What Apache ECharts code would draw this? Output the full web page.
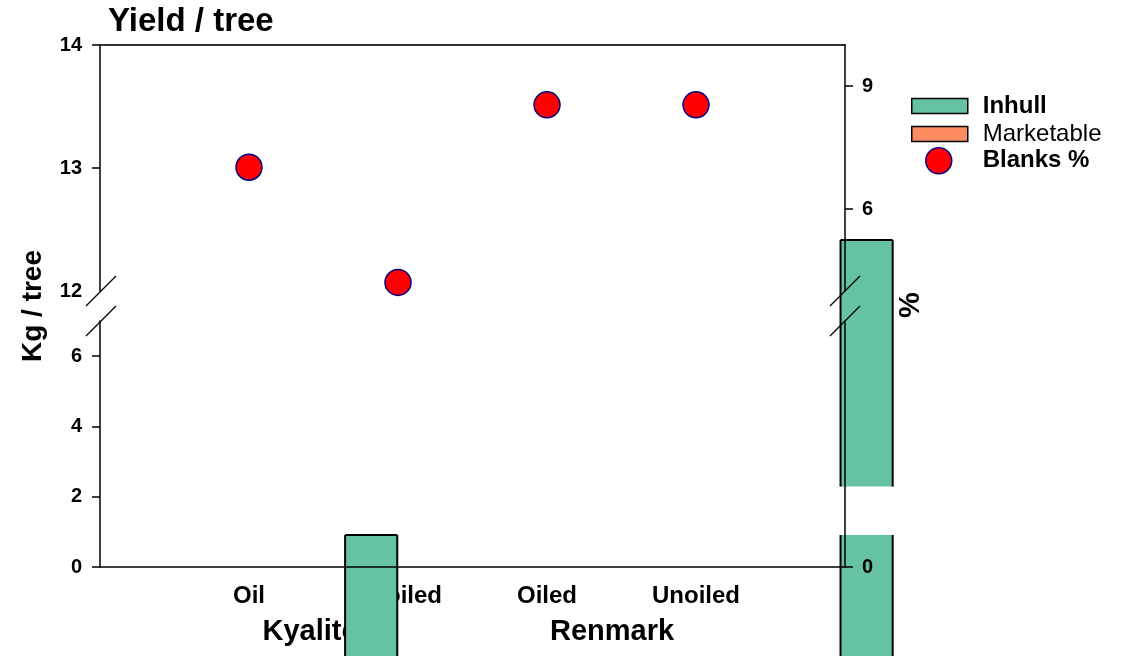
<!DOCTYPE html>
<html>
<head>
<meta charset="utf-8">
<title>Yield / tree</title>
<script src="https://cdn.jsdelivr.net/npm/echarts@6/dist/echarts.min.js"></script>
<style>
  html, body { margin: 0; padding: 0; background: #fff; }
  #chart { width: 1132px; height: 656px; }
</style>
</head>
<body>
<div id="chart"></div>
<script>
  // category labels along the x axis (positions 1..4)
  const categories = ['Oil', 'Unoiled', 'Oiled', 'Unoiled'];
  const groups = ['Kyalite', 'Renmark'];
  // Blanks % (right axis, upper segment)
  const blanks = [7.02, 4.21, 8.54, 8.54];
  // Inhull bars: [x, top, bottom] in kg / tree
  const inhullUpper = [[5.145, 12.415, 10.41]];
  const inhullLower = [[1.82, 0.91, -4], [5.145, 0.91, -4]];
  const marketable = [];

  const FONT = 'Liberation Sans, Arial, sans-serif';
  const BAR_WIDTH = 0.35;
  const GREEN = '#66c2a5';
  const ORANGE = '#fc8d62';

  const chart = echarts.init(document.getElementById('chart'));

  function barRenderer(capAll) {
    return function (params, api) {
      const x = api.value(0);
      const p1 = api.coord([x - BAR_WIDTH / 2, api.value(1)]);
      const p2 = api.coord([x + BAR_WIDTH / 2, api.value(2)]);
      const stroke = { stroke: '#000', lineWidth: 2 };
      const children = [
        { type: 'rect', shape: { x: p1[0], y: p1[1], width: p2[0] - p1[0], height: p2[1] - p1[1] },
          style: { fill: api.visual('color') } },
        { type: 'line', shape: { x1: p1[0], y1: p1[1], x2: p1[0], y2: p2[1] }, style: stroke },
        { type: 'line', shape: { x1: p2[0], y1: p1[1], x2: p2[0], y2: p2[1] }, style: stroke }
      ];
      // a bar that continues from the upper segment has no top edge here
      const continued = !capAll && inhullUpper.some(u => u[0] === x);
      if (!continued) {
        children.push({ type: 'line', shape: { x1: p1[0], y1: p1[1], x2: p2[0], y2: p1[1] }, style: stroke });
      }
      return { type: 'group', children };
    };
  }

  const tickLabel = { color: '#000', fontSize: 20, fontWeight: 'bold', fontFamily: FONT };
  const axisLine = { show: true, lineStyle: { color: '#000', width: 1.5 } };
  const tick = (vals) => ({ show: true, inside: false, length: 8, customValues: vals, lineStyle: { color: '#000', width: 1.5 } });

  const gridBox = { left: 100, width: 745, height: 246, outerBoundsMode: 'none', containLabel: false };

  chart.setOption({
    backgroundColor: '#fff',
    animation: false,
    title: {
      text: 'Yield / tree', left: 108, top: 5, padding: 0,
      textStyle: { color: '#000', fontSize: 33, fontWeight: 'bold', fontFamily: FONT }
    },
    legend: [
      { data: ['Inhull'], left: 911, top: 94, padding: 0, itemWidth: 56, itemHeight: 15, icon: 'rect',
        itemStyle: { color: GREEN, borderColor: '#000', borderWidth: 1.5 },
        textStyle: { color: '#000', fontSize: 24, fontWeight: 'bold', fontFamily: FONT, padding: [0, 0, 0, 10] } },
      { data: ['Marketable'], left: 911, top: 122, padding: 0, itemWidth: 56, itemHeight: 15, icon: 'rect',
        itemStyle: { color: ORANGE, borderColor: '#000', borderWidth: 1.5 },
        textStyle: { color: '#000', fontSize: 24, fontWeight: 'normal', fontFamily: FONT, padding: [0, 0, 0, 10] } },
      { data: ['Blanks %'], left: 925, top: 147, padding: 0, itemWidth: 26, itemHeight: 26, icon: 'circle',
        itemStyle: { color: '#ff0000', borderColor: '#000080', borderWidth: 1.5 },
        textStyle: { color: '#000', fontSize: 24, fontWeight: 'bold', fontFamily: FONT, padding: [0, 0, 0, 26] } }
    ],
    grid: [
      Object.assign({ top: 45 }, gridBox),
      Object.assign({ top: 321 }, gridBox),
      Object.assign({ top: 321 }, gridBox)
    ],
    xAxis: [
      { gridIndex: 0, type: 'value', min: 0, max: 5, position: 'top',
        axisLine: { show: true, lineStyle: { color: '#333', width: 2 } },
        axisTick: { show: false }, axisLabel: { show: false }, splitLine: { show: false } },
      { gridIndex: 1, type: 'value', min: 0, max: 5, position: 'bottom',
        axisLine: { show: false }, axisTick: { show: false }, splitLine: { show: false },
        axisLabel: Object.assign({}, tickLabel, { fontSize: 24, margin: 17, customValues: [1, 2, 3, 4],
          formatter: v => categories[Math.round(v) - 1] || '' }) },
      { gridIndex: 2, type: 'value', min: 0, max: 5, position: 'bottom', z: 5,
        axisLine: axisLine, axisTick: { show: false }, axisLabel: { show: false }, splitLine: { show: false } }
    ],
    yAxis: [
      { gridIndex: 0, type: 'value', position: 'left', min: 12, max: 14, interval: 1,
        axisLine: axisLine, axisTick: tick([13, 14]), splitLine: { show: false },
        axisLabel: Object.assign({}, tickLabel, { margin: 18 }) },
      { gridIndex: 0, type: 'value', position: 'right', min: 4, max: 10, z: 5,
        axisLine: axisLine, axisTick: tick([6, 9]), splitLine: { show: false },
        axisLabel: Object.assign({}, tickLabel, { margin: 17, customValues: [6, 9] }) },
      { gridIndex: 1, type: 'value', position: 'left', min: 0, max: 7,
        axisLine: axisLine, axisTick: tick([0, 2, 4, 6]), splitLine: { show: false },
        axisLabel: Object.assign({}, tickLabel, { margin: 18, customValues: [0, 2, 4, 6] }) },
      { gridIndex: 1, type: 'value', position: 'right', min: 0, max: 7, z: 5,
        axisLine: axisLine, axisTick: tick([0]), splitLine: { show: false },
        axisLabel: Object.assign({}, tickLabel, { margin: 17, customValues: [0] }) },
      { gridIndex: 2, type: 'value', min: 0, max: 7, show: false }
    ],
    series: [
      { name: 'Inhull', type: 'custom', xAxisIndex: 0, yAxisIndex: 0, z: 2, clip: false,
        itemStyle: { color: GREEN }, renderItem: barRenderer(true), data: inhullUpper },
      { name: 'Inhull', type: 'custom', xAxisIndex: 1, yAxisIndex: 2, z: 2, clip: false,
        itemStyle: { color: GREEN }, renderItem: barRenderer(false), data: inhullLower },
      { name: 'Marketable', type: 'custom', xAxisIndex: 1, yAxisIndex: 2,
        itemStyle: { color: ORANGE }, renderItem: barRenderer(false), data: marketable },
      { name: 'Blanks %', type: 'scatter', xAxisIndex: 0, yAxisIndex: 1, z: 6,
        symbolSize: 26,
        itemStyle: { color: '#ff0000', borderColor: '#000080', borderWidth: 1.5, opacity: 1 },
        data: blanks.map((v, i) => [i + 1, v]) }
    ],
    graphic: [
      // axis break marks
      { type: 'line', z: 100, shape: { x1: 86, y1: 306, x2: 116, y2: 276 }, style: { stroke: '#000', lineWidth: 1.3 } },
      { type: 'line', z: 100, shape: { x1: 86, y1: 336, x2: 116, y2: 306 }, style: { stroke: '#000', lineWidth: 1.3 } },
      { type: 'line', z: 100, shape: { x1: 830, y1: 306, x2: 860, y2: 276 }, style: { stroke: '#000', lineWidth: 1.3 } },
      { type: 'line', z: 100, shape: { x1: 830, y1: 336, x2: 860, y2: 306 }, style: { stroke: '#000', lineWidth: 1.3 } },
      // group labels and axis titles
      { type: 'text', x: 310, y: 632, z: 1, style: { text: groups[0], fill: '#000', fontSize: 29, fontWeight: 'bold', fontFamily: FONT, align: 'center', verticalAlign: 'middle' } },
      { type: 'text', x: 612, y: 632, z: 1, style: { text: groups[1], fill: '#000', fontSize: 29, fontWeight: 'bold', fontFamily: FONT, align: 'center', verticalAlign: 'middle' } },
      { type: 'text', x: 33, y: 306, rotation: Math.PI / 2, style: { text: 'Kg / tree', fill: '#000', fontSize: 28, fontWeight: 'bold', fontFamily: FONT, align: 'center', verticalAlign: 'middle' } },
      { type: 'text', x: 911, y: 305, rotation: Math.PI / 2, style: { text: '%', fill: '#000', fontSize: 29, fontWeight: 'bold', fontFamily: FONT, align: 'center', verticalAlign: 'middle' } }
    ]
  });
</script>
</body>
</html>
